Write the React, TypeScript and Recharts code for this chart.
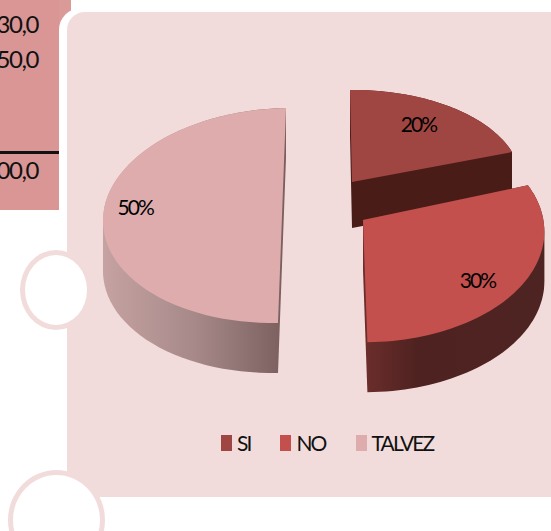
import React from "react";
import { PieChart, Pie, Cell, Legend } from "recharts";

const categories = ["SI", "NO", "TALVEZ"];
const shares = [20, 30, 50];
const topColors = ["#a04642", "#c4504e", "#deacac"];
const wallStart = ["#4a1c18", "#6c2e2c", "#c6a2a2"];
const wallMid = ["#4a1c18", "#4e2220", "#a78989"];
const wallEnd = ["#4a1c18", "#4e2422", "#7a5e5e"];

const FONT = "Lato, 'Noto Sans', sans-serif";

// tilted pie: each slice has its own apex, axis vectors and perspective term
const slices = [
  { ax: 352, ay: 182, ux: 168.9, uy: -1.7, vx: -2, vy: -92, k: 0, depth: 46, labelR: 0.68, ldy: -7 },
  { ax: 363, ay: 220, ux: 180, uy: -2, vx: -4, vy: -110, k: 0.1, depth: 50, labelR: 0.74, ldy: 11 },
  { ax: 282, ay: 215.5, ux: 179, uy: -3, vx: 4, vy: -107.5, k: 0, depth: 50, labelR: 0.82, ldy: -11 },
];

type Slice = (typeof slices)[number];
type Pt = { x: number; y: number };

function project(s: Slice, deg: number, r: number): Pt {
  const a = (deg * Math.PI) / 180;
  const u = Math.cos(a) * r;
  const v = Math.sin(a) * r;
  const w = 1 + s.k * v;
  return { x: s.ax + (u * s.ux + v * s.vx) / w, y: s.ay + (u * s.uy + v * s.vy) / w };
}

// outline of top face plus its copy shifted down, gives the side wall silhouette
function hull(points: Pt[]) {
  const sorted = [...points].sort((a, b) => a.x - b.x || a.y - b.y);
  const cross = (o: Pt, a: Pt, b: Pt) => (a.x - o.x) * (b.y - o.y) - (a.y - o.y) * (b.x - o.x);
  const build = (list: Pt[]) => {
    const out: Pt[] = [];
    for (const p of list) {
      while (out.length >= 2 && cross(out[out.length - 2], out[out.length - 1], p) <= 0) out.pop();
      out.push(p);
    }
    out.pop();
    return out;
  };
  return [...build(sorted), ...build([...sorted].reverse())];
}

const poly = (list: Pt[]) => "M" + list.map((p) => `${p.x.toFixed(1)},${p.y.toFixed(1)}`).join("L") + "Z";

function Slice3D(props: any) {
  const { startAngle, endAngle } = props;
  const i = categories.indexOf(props.name ?? props.payload?.name);
  const s = slices[i];
  const steps = 60;
  const pts: Pt[] = [{ x: s.ax, y: s.ay }];
  for (let n = 0; n <= steps; n++) {
    pts.push(project(s, startAngle + ((endAngle - startAngle) * n) / steps, 1));
  }
  const shifted = pts.map((p) => ({ x: p.x, y: p.y + s.depth }));
  const xs = pts.map((p) => p.x);
  const gradId = `wall-${i}`;
  return (
    <g>
      <defs>
        <linearGradient id={gradId} gradientUnits="userSpaceOnUse" x1={Math.min(...xs)} y1={0} x2={Math.max(...xs)} y2={0}>
          <stop offset="0%" stopColor={wallStart[i]} />
          <stop offset={i === 1 ? "30%" : "50%"} stopColor={wallMid[i]} />
          <stop offset="100%" stopColor={wallEnd[i]} />
        </linearGradient>
      </defs>
      <path d={poly(hull([...pts, ...shifted]))} fill={`url(#${gradId})`} />
      <path d={poly(pts)} fill={topColors[i]} />
    </g>
  );
}

function sliceLabel(props: any) {
  const i = categories.indexOf(props.name ?? props.payload?.name);
  const s = slices[i];
  const p = project(s, props.midAngle, s.labelR);
  return (
    <text x={p.x} y={p.y + s.ldy} textAnchor="middle" dominantBaseline="central" fontFamily={FONT} fontSize={21} letterSpacing={-2} fill="#000">
      {shares[i]}%
    </text>
  );
}

function LegendRow() {
  return (
    <div style={{ display: "flex", gap: 30, fontFamily: FONT, fontSize: 21, letterSpacing: -1.9, color: "#111", lineHeight: "24px" }}>
      {categories.map((c, i) => (
        <div key={c} style={{ display: "flex", alignItems: "center", gap: 5 }}>
          <span style={{ width: 11, height: 16, background: topColors[i], display: "inline-block" }} />
          {c}
        </div>
      ))}
    </div>
  );
}

const tableValues = [
  { text: "30,0", top: 11 },
  { text: "50,0", top: 46 },
  { text: "00,0", top: 157 },
];

export default function App() {
  const data = categories.map((name, i) => ({ name, value: shares[i] }));
  return (
    <div style={{ position: "absolute", left: 0, top: 0, width: 551, height: 531, overflow: "hidden", background: "#fff" }}>
      <div style={{ position: "absolute", left: 0, top: 0, width: 71, height: 30, background: "#d99a98" }} />
      <div style={{ position: "absolute", left: 0, top: 0, width: 59, height: 210, background: "#d99694" }} />
      <div style={{ position: "absolute", left: 0, top: 151, width: 59, height: 3, background: "#111" }} />
      {tableValues.map((t) => (
        <div key={t.text} style={{ position: "absolute", right: 551 - 38, top: t.top, fontFamily: FONT, fontSize: 24, letterSpacing: -1.4, lineHeight: "26px", color: "#111", whiteSpace: "nowrap" }}>
          {t.text}
        </div>
      ))}
      <div style={{ position: "absolute", left: 59, top: 8, width: 40, height: 60, background: "#fff", borderTopLeftRadius: 22 }} />
      <div style={{ position: "absolute", left: 67, top: 12, width: 484, height: 485, background: "#f2dcdb", borderTopLeftRadius: 18 }} />
      <div style={{ position: "absolute", left: 20, top: 250, width: 62, height: 70, borderRadius: "50%", background: "#fff", border: "5px solid #f2dcdb" }} />
      <div style={{ position: "absolute", left: 8, top: 470, width: 87, height: 90, borderRadius: "50%", background: "#fff", border: "5px solid #f2dcdb" }} />
      <div style={{ position: "absolute", left: 0, top: 0 }}>
        <PieChart width={551} height={531} margin={{ top: 0, right: 0, bottom: 0, left: 0 }}>
          <Pie
            data={data}
            dataKey="value"
            nameKey="name"
            cx={280}
            cy={220}
            outerRadius={150}
            startAngle={90}
            endAngle={-270}
            stroke="none"
            shape={Slice3D}
            label={sliceLabel}
            labelLine={false}
            isAnimationActive={false}
          >
            {data.map((d, i) => (
              <Cell key={d.name} fill={topColors[i]} />
            ))}
          </Pie>
          <Legend content={<LegendRow />} wrapperStyle={{ position: "absolute", left: 221, top: 431, width: "auto", bottom: "auto" }} />
        </PieChart>
      </div>
    </div>
  );
}
